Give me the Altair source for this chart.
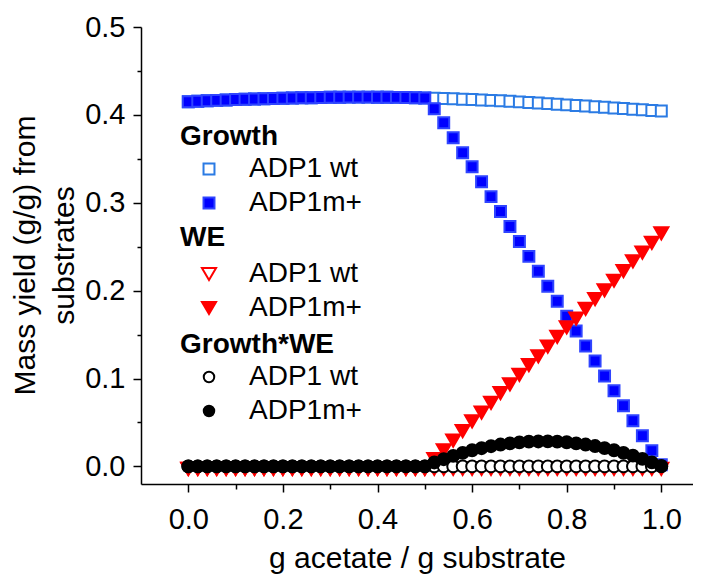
import altair as alt
import pandas as pd

# ---------------- data ----------------
x_vals = [0.00, 0.02, 0.04, 0.06, 0.08, 0.10, 0.12, 0.14, 0.16, 0.18,
          0.20, 0.22, 0.24, 0.26, 0.28, 0.30, 0.32, 0.34, 0.36, 0.38,
          0.40, 0.42, 0.44, 0.46, 0.48, 0.50, 0.52, 0.54, 0.56, 0.58,
          0.60, 0.62, 0.64, 0.66, 0.68, 0.70, 0.72, 0.74, 0.76, 0.78,
          0.80, 0.82, 0.84, 0.86, 0.88, 0.90, 0.92, 0.94, 0.96, 0.98, 1.00]

growth_wt = [0.4150, 0.4155, 0.4160, 0.4165, 0.4170, 0.4174, 0.4178, 0.4181, 0.4184, 0.4187,
             0.4190, 0.4192, 0.4194, 0.4196, 0.4198, 0.4200, 0.4201, 0.4202, 0.4202, 0.4202,
             0.4201, 0.4200, 0.4199, 0.4197, 0.4195, 0.4193, 0.4190, 0.4187, 0.4183, 0.4179,
             0.4175, 0.4170, 0.4165, 0.4160, 0.4154, 0.4148, 0.4142, 0.4135, 0.4128, 0.4121,
             0.4114, 0.4107, 0.4100, 0.4093, 0.4086, 0.4079, 0.4072, 0.4065, 0.4058, 0.4051, 0.4044]

growth_mp = [0.4150, 0.4155, 0.4160, 0.4165, 0.4170, 0.4174, 0.4178, 0.4181, 0.4184, 0.4187,
             0.4190, 0.4192, 0.4194, 0.4196, 0.4198, 0.4200, 0.4201, 0.4202, 0.4202, 0.4202,
             0.4201, 0.4200, 0.4199, 0.4197, 0.4195, 0.4193, 0.407, 0.391, 0.374, 0.357,
             0.341, 0.324, 0.307, 0.290, 0.273, 0.256, 0.239, 0.222, 0.205, 0.188,
             0.171, 0.154, 0.137, 0.120, 0.103, 0.086, 0.069, 0.052, 0.035, 0.018, 0.002]

we_wt = [0.0, 0.0, 0.0, 0.0, 0.0, 0.0, 0.0, 0.0, 0.0, 0.0,
         0.0, 0.0, 0.0, 0.0, 0.0, 0.0, 0.0, 0.0, 0.0, 0.0,
         0.0, 0.0, 0.0, 0.0, 0.0, 0.0, 0.0, 0.0, 0.0, 0.0,
         0.0, 0.0, 0.0, 0.0, 0.0, 0.0, 0.0, 0.0, 0.0, 0.0,
         0.0, 0.0, 0.0, 0.0, 0.0, 0.0, 0.0, 0.0, 0.0, 0.0, 0.0]

we_mp = [0.0, 0.0, 0.0, 0.0, 0.0, 0.0, 0.0, 0.0, 0.0, 0.0,
         0.0, 0.0, 0.0, 0.0, 0.0, 0.0, 0.0, 0.0, 0.0, 0.0,
         0.0, 0.0, 0.0, 0.0, 0.0, 0.0, 0.011, 0.021, 0.032, 0.043,
         0.054, 0.064, 0.075, 0.086, 0.096, 0.107, 0.118, 0.128, 0.139, 0.150,
         0.161, 0.171, 0.182, 0.193, 0.203, 0.214, 0.225, 0.236, 0.246, 0.257, 0.268]

gwe_wt = [0.0, 0.0, 0.0, 0.0, 0.0, 0.0, 0.0, 0.0, 0.0, 0.0,
          0.0, 0.0, 0.0, 0.0, 0.0, 0.0, 0.0, 0.0, 0.0, 0.0,
          0.0, 0.0, 0.0, 0.0, 0.0, 0.0, 0.0, 0.0, 0.0, 0.0,
          0.0, 0.0, 0.0, 0.0, 0.0, 0.0, 0.0, 0.0, 0.0, 0.0,
          0.0, 0.0, 0.0, 0.0, 0.0, 0.0, 0.0, 0.0, 0.0, 0.0, 0.0]

gwe_mp = [0.0, 0.0, 0.0, 0.0, 0.0, 0.0, 0.0, 0.0, 0.0, 0.0,
          0.0, 0.0, 0.0, 0.0, 0.0, 0.0, 0.0, 0.0, 0.0, 0.0,
          0.0, 0.0, 0.0, 0.0, 0.0, 0.0, 0.0045, 0.0082, 0.0120, 0.0154,
          0.0184, 0.0207, 0.0230, 0.0249, 0.0262, 0.0274, 0.0282, 0.0284, 0.0285, 0.0282,
          0.0275, 0.0263, 0.0249, 0.0232, 0.0209, 0.0184, 0.0155, 0.0123, 0.0086, 0.0046, 0.0005]

strains = ["ADP1 wt", "ADP1m+"]
groups = ["Growth", "WE", "Growth*WE"]

x_ticks = [0.0, 0.1, 0.2, 0.3, 0.4, 0.5, 0.6, 0.7, 0.8, 0.9, 1.0]
y_ticks = [0.0, 0.05, 0.1, 0.15, 0.2, 0.25, 0.3, 0.35, 0.4, 0.45, 0.5]

series = [
    ("Growth", "ADP1 wt", growth_wt),
    ("Growth", "ADP1m+", growth_mp),
    ("WE", "ADP1 wt", we_wt),
    ("WE", "ADP1m+", we_mp),
    ("Growth*WE", "ADP1 wt", gwe_wt),
    ("Growth*WE", "ADP1m+", gwe_mp),
]
rows = []
for g, s, ys in series:
    for xv, yv in zip(x_vals, ys):
        rows.append({"group": g, "strain": s, "x": xv, "y": yv})
df = pd.DataFrame(rows)

FONT = "Liberation Sans"

xscale = alt.Scale(domain=[-0.1, 1.067], nice=False, zero=False)
yscale = alt.Scale(domain=[-0.02, 0.5], nice=False, zero=False)

xaxis = alt.Axis(
    values=x_ticks,
    labelExpr="round(datum.value*10) % 2 === 0 ? format(datum.value, '.1f') : ''",
    tickSize={"condition": {"test": "round(datum.value*10) % 2 === 0", "value": 8}, "value": 5},
    labelPadding=13,
    title="g acetate / g substrate",
    titleY=83,
    titleBaseline="alphabetic",
)
yaxis = alt.Axis(
    values=y_ticks,
    labelExpr="round(datum.value*20) % 2 === 0 ? format(datum.value, '.1f') : ''",
    tickSize={"condition": {"test": "round(datum.value*20) % 2 === 0", "value": 8}, "value": 4},
    labelPadding=8,
    title=["Mass yield (g/g) from", "substrates"],
    titleAngle=-90,
    titleX=-107,
    titleY=228,
    titleAlign="center",
    titleBaseline="alphabetic",
    titleLineHeight=39,
)


def make_layer(group, shape, size, fill_range, stroke_range, legend_y,
               title_pad, sym_size, y_off):
    leg = alt.Legend(
        title=group, orient="none", legendX=39, legendY=legend_y,
        symbolType=shape, symbolSize=sym_size, symbolStrokeWidth=2,
        symbolOffset=15, labelOffset=26,
        titlePadding=title_pad, rowPadding=6, padding=0,
    )
    return alt.Chart(df).transform_filter(
        alt.datum.group == group
    ).mark_point(
        shape=shape, size=size, filled=True, strokeWidth=2, opacity=1, yOffset=y_off
    ).encode(
        x=alt.X("x:Q", scale=xscale, axis=xaxis),
        y=alt.Y("y:Q", scale=yscale, axis=yaxis),
        fill=alt.Fill("strain:N", scale=alt.Scale(domain=strains, range=fill_range), legend=leg),
        stroke=alt.Stroke("strain:N", scale=alt.Scale(domain=strains, range=stroke_range), legend=leg),
    )


layer_growth = make_layer("Growth", "square", 120, ["white", "#0000FF"], ["#2B7BE4", "#2F44FF"],
                          96, 4, 120, 0)
layer_we = make_layer("WE", "triangle-down", 200, ["white", "#FF0000"], ["#FF0000", "#FF0000"],
                      197, 8, 200, 2.4)
layer_gwe = make_layer("Growth*WE", "circle", 140, ["white", "#000000"], ["#000000", "#000000"],
                       304, 4, 110, 0)

chart = alt.layer(layer_growth, layer_we, layer_gwe).resolve_scale(
    fill="independent", stroke="independent"
).properties(
    width=552, height=457,
    autosize=alt.AutoSizeParams(type="none"),
    padding={"left": 133, "top": 19, "right": 0, "bottom": 90},
).configure_view(
    strokeWidth=0
).configure_axis(
    grid=False,
    labelFont=FONT, labelFontSize=29, labelColor="black",
    titleFont=FONT, titleFontSize=30, titleColor="black", titleFontWeight="normal",
    domainColor="black", domainWidth=1.5, tickColor="black", tickWidth=1.5,
).configure_legend(
    titleFont=FONT, titleFontSize=28, titleFontWeight="bold", titleColor="black",
    labelFont=FONT, labelFontSize=28, labelColor="black", labelLimit=400,
)

chart.save("out.html", embed_options={"renderer": "svg", "actions": False})
